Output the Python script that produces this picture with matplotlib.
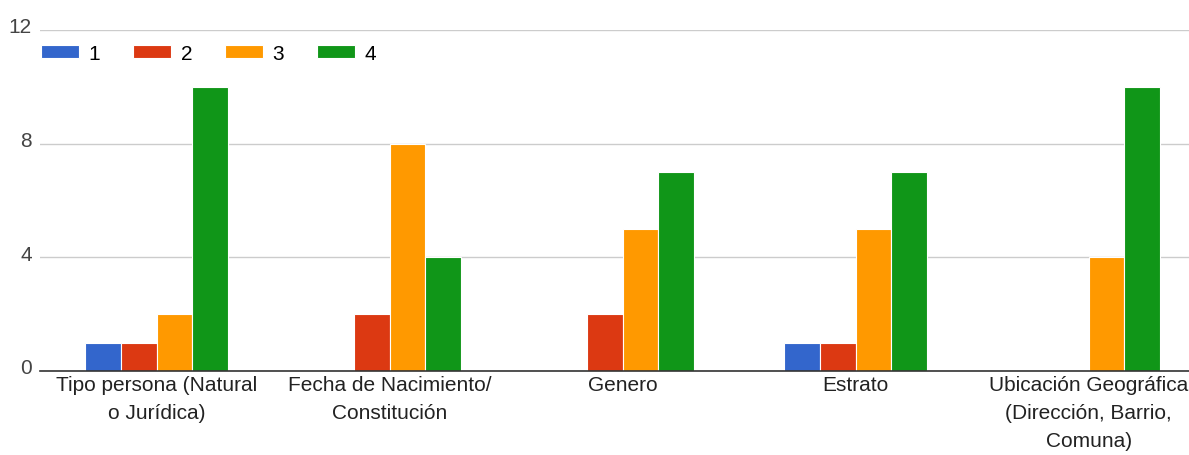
import matplotlib.pyplot as plt
import matplotlib.transforms as mtransforms
import numpy as np

plt.rcParams['font.family'] = ['Liberation Sans', 'DejaVu Sans']

categories = [
    "Tipo persona (Natural\no Jurídica)",
    "Fecha de Nacimiento/\nConstitución",
    "Genero",
    "Estrato",
    "Ubicación Geográfica\n(Dirección, Barrio,\nComuna)",
]
series_names = ["1", "2", "3", "4"]
values_1 = [1, 0, 0, 1, 0]
values_2 = [1, 2, 2, 1, 0]
values_3 = [2, 8, 5, 5, 4]
values_4 = [10, 4, 7, 7, 10]
colors = ["#3366cc", "#dc3912", "#ff9900", "#109618"]

fig = plt.figure(figsize=(11.89, 4.56), dpi=100)
ax = fig.add_axes([40 / 1189, 1 - 372 / 456, 1 - 40 / 1189, (372 - 31) / 456])

x = np.arange(len(categories))
width = 0.153
all_values = [values_1, values_2, values_3, values_4]
handles = []
for i, (vals, col, name) in enumerate(zip(all_values, colors, series_names)):
    b = ax.bar(x + (i - 1.5) * width, vals, width, color=col,
               edgecolor="white", linewidth=0.8, label=name, zorder=3)
    handles.append(b)

ax.set_xlim(-0.5, 4.43)
ax.set_ylim(0, 12)
ax.set_yticks([0, 4, 8, 12])
ax.set_xticks(x)
ax.set_xticklabels(categories, fontsize=15, color="#222222", linespacing=1.6)
ax.tick_params(axis="x", length=0, pad=3)
ax.tick_params(axis="y", length=0, labelsize=15, labelcolor="#444444", pad=6)

# y labels sit a little above their gridline
shift = mtransforms.ScaledTranslation(0, 5 / 100, fig.dpi_scale_trans)
for tick in ax.yaxis.get_major_ticks():
    tick.label1.set_verticalalignment("center_baseline")
    tick.label1.set_transform(tick.label1.get_transform() + shift)

ax.grid(axis="y", color="#cccccc", linewidth=1, zorder=0)
for side in ["top", "right", "left"]:
    ax.spines[side].set_visible(False)
ax.spines["bottom"].set_color("#333333")
ax.spines["bottom"].set_linewidth(1.2)
ax.spines["bottom"].set_zorder(4)

ax.legend(handles=handles, labels=series_names, loc="upper left",
          bbox_to_anchor=(41 / 1189, 1 - 45 / 456), bbox_transform=fig.transFigure,
          ncol=4, frameon=False, fontsize=15, handlelength=1.83, handleheight=0.6,
          handletextpad=0.45, columnspacing=1.58, borderaxespad=0, borderpad=0)

fig.savefig("out.png", dpi=100, facecolor="white")
